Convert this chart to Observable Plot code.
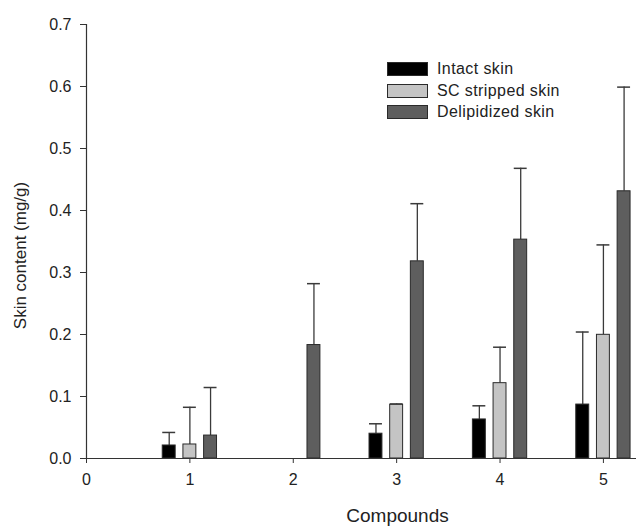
<!DOCTYPE html>
<html>
<head>
<meta charset="utf-8">
<script src="https://cdn.jsdelivr.net/npm/d3@7"></script>
<script src="https://cdn.jsdelivr.net/npm/@observablehq/plot@0.6"></script>
<style>
  body { margin: 0; background: #fff; }
  #wrap { position: relative; width: 636px; height: 526px; font-family: "Liberation Sans", Arial, sans-serif; color: #222; }
  .sw { position: absolute; width: 39px; height: 12px; border: 1px solid #2a2a2a; }
  .lt { position: absolute; font-size: 16px; letter-spacing: 0.4px; line-height: 16px; color: #222; white-space: nowrap; }
</style>
</head>
<body>
<div id="wrap"></div>
<script>
// ---- data ----
const compounds = [1, 2, 3, 4, 5];
const seriesNames = ["Intact skin", "SC stripped skin", "Delipidized skin"];
const intact     = [0.021, 0,     0.040,  0.063,  0.087];
const intactSD   = [0.021, 0,     0.016,  0.022,  0.117];
const stripped   = [0.0226, 0,    0.0866, 0.1215, 0.1995];
const strippedSD = [0.060, 0,     0.0014, 0.058,  0.145];
const delip      = [0.037, 0.183, 0.318,  0.353,  0.431];
const delipSD    = [0.0775, 0.099, 0.093, 0.115,  0.168];
const xTicks = [0, 1, 2, 3, 4, 5];
const yTicks = [0, 0.1, 0.2, 0.3, 0.4, 0.5, 0.6, 0.7];
const colors = ["#000000", "#c4c4c4", "#5e5e5e"];

// ---- build table ----
const values = [intact, stripped, delip];
const sds = [intactSD, strippedSD, delipSD];
const offset = 0.2, hw = 0.0625;
const rows = [];
values.forEach((arr, k) => {
  arr.forEach((v, i) => {
    rows.push({c: compounds[i], k, v, sd: sds[k][i], cx: compounds[i] + (k - 1) * offset});
  });
});
const shown = rows.filter(d => d.v > 0);
const withErr = shown.filter(d => d.sd > 0);

const barMarks = [0, 1, 2].map(k =>
  Plot.rectY(shown.filter(d => d.k === k), {
    x1: d => d.cx - hw, x2: d => d.cx + hw, y1: 0, y2: d => d.v,
    fill: colors[k], stroke: "#2a2a2a", strokeWidth: 1
  })
);

const chart = Plot.plot({
  width: 636,
  height: 526,
  marginLeft: 86,
  marginRight: 0,
  marginTop: 24,
  marginBottom: 68,
  style: {fontFamily: "'Liberation Sans', Arial, sans-serif", color: "#222", background: "#fff"},
  x: {domain: [0, 5.32], label: null},
  y: {domain: [0, 0.7], label: null},
  marks: [
    Plot.axisY(yTicks, {tickSize: 6, tickPadding: 9, tickFormat: d3.format(".1f"), fontSize: 16, stroke: "#333", label: null}),
    Plot.axisX(xTicks, {tickSize: 5, tickPadding: 10, fontSize: 16, stroke: "#333", label: null}),
    Plot.ruleX(withErr, {x: "cx", y1: "v", y2: d => d.v + d.sd, stroke: "#3a3a3a", strokeWidth: 1.3}),
    Plot.ruleY(withErr, {y: d => d.v + d.sd, x1: d => d.cx - hw, x2: d => d.cx + hw, stroke: "#3a3a3a", strokeWidth: 1.5}),
    ...barMarks,
    Plot.ruleX([0], {y1: 0, y2: 0.7, stroke: "#333", strokeWidth: 1.2}),
    Plot.ruleY([0], {x1: 0, x2: 5.32, stroke: "#333", strokeWidth: 1.2}),
    Plot.text(["Compounds"], {text: d => d, frameAnchor: "bottom", textAnchor: "middle", dx: 36, dy: 57, fontSize: 19, fill: "#222", lineAnchor: "middle"}),
    Plot.text(["Skin content (mg/g)"], {text: d => d, frameAnchor: "left", textAnchor: "middle", rotate: -90, dx: -66, dy: 14, fontSize: 17, fill: "#222", lineAnchor: "middle"})
  ]
});

const wrap = document.getElementById("wrap");
wrap.appendChild(chart);

// legend (HTML, inside plot area)
seriesNames.forEach((name, k) => {
  const top = 62 + k * 21.5;
  const sw = document.createElement("div");
  sw.className = "sw";
  sw.style.left = "387px";
  sw.style.top = top + "px";
  sw.style.background = colors[k];
  wrap.appendChild(sw);
  const t = document.createElement("div");
  t.className = "lt";
  t.style.left = "437px";
  t.style.top = (top - 1) + "px";
  t.textContent = name;
  wrap.appendChild(t);
});
</script>
</body>
</html>
